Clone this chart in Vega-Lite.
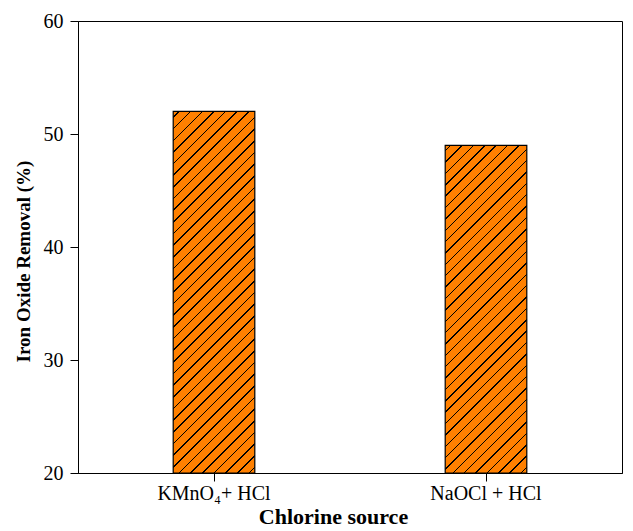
{
  "$schema": "https://vega.github.io/schema/vega-lite/v6.json",
  "autosize": "none",
  "width": 544,
  "height": 452,
  "padding": {"left": 78, "top": 21, "right": 11, "bottom": 58},
  "background": "white",
  "config": {
    "view": {"stroke": "black", "strokeWidth": 1},
    "font": "Liberation Serif",
    "axis": {
      "domainColor": "black",
      "tickColor": "black",
      "labelColor": "black",
      "titleColor": "black",
      "labelFont": "Liberation Serif",
      "titleFont": "Liberation Serif",
      "labelFontSize": 20,
      "titleFontSize": 19,
      "titleFontWeight": "bold",
      "grid": false,
      "tickSize": 8
    }
  },
  "data": {
    "values": [
      {"source": "KMnO₄+ HCl", "removal": 52},
      {"source": "NaOCl + HCl", "removal": 49}
    ]
  },
  "mark": {"type": "bar", "stroke": "black", "strokeWidth": 1.2},
  "encoding": {
    "x": {
      "field": "source",
      "type": "nominal",
      "sort": null,
      "scale": {"paddingInner": 0.7, "paddingOuter": 0.35},
      "axis": {"title": "Chlorine source", "labelAngle": 0, "titleFontSize": 22, "labelPadding": 2, "titlePadding": 3, "titleX": 255}
    },
    "y": {
      "field": "removal",
      "type": "quantitative",
      "scale": {"domain": [20, 60], "zero": false, "nice": false},
      "axis": {"title": "Iron Oxide Removal (%)", "values": [20, 30, 40, 50, 60], "labelPadding": 7, "titlePadding": 10, "titleY": 240}
    },
    "y2": {"datum": 20},
    "fill": {
      "condition": {
        "test": "datum.source === 'NaOCl + HCl'",
        "value": {
          "gradient": "linear", "x1": 0, "y1": 0, "x2": 0.29286, "y2": 1.17609,
          "stops": [
            {"offset": 0, "color": "#FF8000"},
            {"offset": 0.0121, "color": "#FF8000"}, {"offset": 0.0121, "color": "#000000"}, {"offset": 0.0157, "color": "#000000"}, {"offset": 0.0157, "color": "#FF8000"},
            {"offset": 0.0399, "color": "#FF8000"}, {"offset": 0.0399, "color": "#000000"}, {"offset": 0.0435, "color": "#000000"}, {"offset": 0.0435, "color": "#FF8000"},
            {"offset": 0.0676, "color": "#FF8000"}, {"offset": 0.0676, "color": "#000000"}, {"offset": 0.0712, "color": "#000000"}, {"offset": 0.0712, "color": "#FF8000"},
            {"offset": 0.0954, "color": "#FF8000"}, {"offset": 0.0954, "color": "#000000"}, {"offset": 0.0990, "color": "#000000"}, {"offset": 0.0990, "color": "#FF8000"},
            {"offset": 0.1232, "color": "#FF8000"}, {"offset": 0.1232, "color": "#000000"}, {"offset": 0.1268, "color": "#000000"}, {"offset": 0.1268, "color": "#FF8000"},
            {"offset": 0.1510, "color": "#FF8000"}, {"offset": 0.1510, "color": "#000000"}, {"offset": 0.1546, "color": "#000000"}, {"offset": 0.1546, "color": "#FF8000"},
            {"offset": 0.1788, "color": "#FF8000"}, {"offset": 0.1788, "color": "#000000"}, {"offset": 0.1824, "color": "#000000"}, {"offset": 0.1824, "color": "#FF8000"},
            {"offset": 0.2065, "color": "#FF8000"}, {"offset": 0.2065, "color": "#000000"}, {"offset": 0.2101, "color": "#000000"}, {"offset": 0.2101, "color": "#FF8000"},
            {"offset": 0.2343, "color": "#FF8000"}, {"offset": 0.2343, "color": "#000000"}, {"offset": 0.2379, "color": "#000000"}, {"offset": 0.2379, "color": "#FF8000"},
            {"offset": 0.2621, "color": "#FF8000"}, {"offset": 0.2621, "color": "#000000"}, {"offset": 0.2657, "color": "#000000"}, {"offset": 0.2657, "color": "#FF8000"},
            {"offset": 0.2899, "color": "#FF8000"}, {"offset": 0.2899, "color": "#000000"}, {"offset": 0.2935, "color": "#000000"}, {"offset": 0.2935, "color": "#FF8000"},
            {"offset": 0.3176, "color": "#FF8000"}, {"offset": 0.3176, "color": "#000000"}, {"offset": 0.3212, "color": "#000000"}, {"offset": 0.3212, "color": "#FF8000"},
            {"offset": 0.3454, "color": "#FF8000"}, {"offset": 0.3454, "color": "#000000"}, {"offset": 0.3490, "color": "#000000"}, {"offset": 0.3490, "color": "#FF8000"},
            {"offset": 0.3732, "color": "#FF8000"}, {"offset": 0.3732, "color": "#000000"}, {"offset": 0.3768, "color": "#000000"}, {"offset": 0.3768, "color": "#FF8000"},
            {"offset": 0.4010, "color": "#FF8000"}, {"offset": 0.4010, "color": "#000000"}, {"offset": 0.4046, "color": "#000000"}, {"offset": 0.4046, "color": "#FF8000"},
            {"offset": 0.4288, "color": "#FF8000"}, {"offset": 0.4288, "color": "#000000"}, {"offset": 0.4324, "color": "#000000"}, {"offset": 0.4324, "color": "#FF8000"},
            {"offset": 0.4565, "color": "#FF8000"}, {"offset": 0.4565, "color": "#000000"}, {"offset": 0.4601, "color": "#000000"}, {"offset": 0.4601, "color": "#FF8000"},
            {"offset": 0.4843, "color": "#FF8000"}, {"offset": 0.4843, "color": "#000000"}, {"offset": 0.4879, "color": "#000000"}, {"offset": 0.4879, "color": "#FF8000"},
            {"offset": 0.5121, "color": "#FF8000"}, {"offset": 0.5121, "color": "#000000"}, {"offset": 0.5157, "color": "#000000"}, {"offset": 0.5157, "color": "#FF8000"},
            {"offset": 0.5399, "color": "#FF8000"}, {"offset": 0.5399, "color": "#000000"}, {"offset": 0.5435, "color": "#000000"}, {"offset": 0.5435, "color": "#FF8000"},
            {"offset": 0.5676, "color": "#FF8000"}, {"offset": 0.5676, "color": "#000000"}, {"offset": 0.5712, "color": "#000000"}, {"offset": 0.5712, "color": "#FF8000"},
            {"offset": 0.5954, "color": "#FF8000"}, {"offset": 0.5954, "color": "#000000"}, {"offset": 0.5990, "color": "#000000"}, {"offset": 0.5990, "color": "#FF8000"},
            {"offset": 0.6232, "color": "#FF8000"}, {"offset": 0.6232, "color": "#000000"}, {"offset": 0.6268, "color": "#000000"}, {"offset": 0.6268, "color": "#FF8000"},
            {"offset": 0.6510, "color": "#FF8000"}, {"offset": 0.6510, "color": "#000000"}, {"offset": 0.6546, "color": "#000000"}, {"offset": 0.6546, "color": "#FF8000"},
            {"offset": 0.6788, "color": "#FF8000"}, {"offset": 0.6788, "color": "#000000"}, {"offset": 0.6824, "color": "#000000"}, {"offset": 0.6824, "color": "#FF8000"},
            {"offset": 0.7065, "color": "#FF8000"}, {"offset": 0.7065, "color": "#000000"}, {"offset": 0.7101, "color": "#000000"}, {"offset": 0.7101, "color": "#FF8000"},
            {"offset": 0.7343, "color": "#FF8000"}, {"offset": 0.7343, "color": "#000000"}, {"offset": 0.7379, "color": "#000000"}, {"offset": 0.7379, "color": "#FF8000"},
            {"offset": 0.7621, "color": "#FF8000"}, {"offset": 0.7621, "color": "#000000"}, {"offset": 0.7657, "color": "#000000"}, {"offset": 0.7657, "color": "#FF8000"},
            {"offset": 0.7899, "color": "#FF8000"}, {"offset": 0.7899, "color": "#000000"}, {"offset": 0.7935, "color": "#000000"}, {"offset": 0.7935, "color": "#FF8000"},
            {"offset": 0.8176, "color": "#FF8000"}, {"offset": 0.8176, "color": "#000000"}, {"offset": 0.8212, "color": "#000000"}, {"offset": 0.8212, "color": "#FF8000"},
            {"offset": 0.8454, "color": "#FF8000"}, {"offset": 0.8454, "color": "#000000"}, {"offset": 0.8490, "color": "#000000"}, {"offset": 0.8490, "color": "#FF8000"},
            {"offset": 0.8732, "color": "#FF8000"}, {"offset": 0.8732, "color": "#000000"}, {"offset": 0.8768, "color": "#000000"}, {"offset": 0.8768, "color": "#FF8000"},
            {"offset": 0.9010, "color": "#FF8000"}, {"offset": 0.9010, "color": "#000000"}, {"offset": 0.9046, "color": "#000000"}, {"offset": 0.9046, "color": "#FF8000"},
            {"offset": 0.9288, "color": "#FF8000"}, {"offset": 0.9288, "color": "#000000"}, {"offset": 0.9324, "color": "#000000"}, {"offset": 0.9324, "color": "#FF8000"},
            {"offset": 0.9565, "color": "#FF8000"}, {"offset": 0.9565, "color": "#000000"}, {"offset": 0.9601, "color": "#000000"}, {"offset": 0.9601, "color": "#FF8000"},
            {"offset": 0.9843, "color": "#FF8000"}, {"offset": 0.9843, "color": "#000000"}, {"offset": 0.9879, "color": "#000000"}, {"offset": 0.9879, "color": "#FF8000"},
            {"offset": 1, "color": "#FF8000"}
          ]
        }
      },
      "value": {
        "gradient": "linear", "x1": 0, "y1": 0, "x2": 0.26318, "y2": 1.16627,
        "stops": [
          {"offset": 0, "color": "#FF8000"},
          {"offset": 0.0115, "color": "#FF8000"}, {"offset": 0.0115, "color": "#000000"}, {"offset": 0.0149, "color": "#000000"}, {"offset": 0.0149, "color": "#FF8000"},
          {"offset": 0.0378, "color": "#FF8000"}, {"offset": 0.0378, "color": "#000000"}, {"offset": 0.0411, "color": "#000000"}, {"offset": 0.0411, "color": "#FF8000"},
          {"offset": 0.0641, "color": "#FF8000"}, {"offset": 0.0641, "color": "#000000"}, {"offset": 0.0675, "color": "#000000"}, {"offset": 0.0675, "color": "#FF8000"},
          {"offset": 0.0904, "color": "#FF8000"}, {"offset": 0.0904, "color": "#000000"}, {"offset": 0.0938, "color": "#000000"}, {"offset": 0.0938, "color": "#FF8000"},
          {"offset": 0.1167, "color": "#FF8000"}, {"offset": 0.1167, "color": "#000000"}, {"offset": 0.1201, "color": "#000000"}, {"offset": 0.1201, "color": "#FF8000"},
          {"offset": 0.1430, "color": "#FF8000"}, {"offset": 0.1430, "color": "#000000"}, {"offset": 0.1464, "color": "#000000"}, {"offset": 0.1464, "color": "#FF8000"},
          {"offset": 0.1694, "color": "#FF8000"}, {"offset": 0.1694, "color": "#000000"}, {"offset": 0.1727, "color": "#000000"}, {"offset": 0.1727, "color": "#FF8000"},
          {"offset": 0.1957, "color": "#FF8000"}, {"offset": 0.1957, "color": "#000000"}, {"offset": 0.1991, "color": "#000000"}, {"offset": 0.1991, "color": "#FF8000"},
          {"offset": 0.2220, "color": "#FF8000"}, {"offset": 0.2220, "color": "#000000"}, {"offset": 0.2254, "color": "#000000"}, {"offset": 0.2254, "color": "#FF8000"},
          {"offset": 0.2483, "color": "#FF8000"}, {"offset": 0.2483, "color": "#000000"}, {"offset": 0.2517, "color": "#000000"}, {"offset": 0.2517, "color": "#FF8000"},
          {"offset": 0.2746, "color": "#FF8000"}, {"offset": 0.2746, "color": "#000000"}, {"offset": 0.2780, "color": "#000000"}, {"offset": 0.2780, "color": "#FF8000"},
          {"offset": 0.3009, "color": "#FF8000"}, {"offset": 0.3009, "color": "#000000"}, {"offset": 0.3043, "color": "#000000"}, {"offset": 0.3043, "color": "#FF8000"},
          {"offset": 0.3273, "color": "#FF8000"}, {"offset": 0.3273, "color": "#000000"}, {"offset": 0.3306, "color": "#000000"}, {"offset": 0.3306, "color": "#FF8000"},
          {"offset": 0.3536, "color": "#FF8000"}, {"offset": 0.3536, "color": "#000000"}, {"offset": 0.3570, "color": "#000000"}, {"offset": 0.3570, "color": "#FF8000"},
          {"offset": 0.3799, "color": "#FF8000"}, {"offset": 0.3799, "color": "#000000"}, {"offset": 0.3833, "color": "#000000"}, {"offset": 0.3833, "color": "#FF8000"},
          {"offset": 0.4062, "color": "#FF8000"}, {"offset": 0.4062, "color": "#000000"}, {"offset": 0.4096, "color": "#000000"}, {"offset": 0.4096, "color": "#FF8000"},
          {"offset": 0.4325, "color": "#FF8000"}, {"offset": 0.4325, "color": "#000000"}, {"offset": 0.4359, "color": "#000000"}, {"offset": 0.4359, "color": "#FF8000"},
          {"offset": 0.4588, "color": "#FF8000"}, {"offset": 0.4588, "color": "#000000"}, {"offset": 0.4622, "color": "#000000"}, {"offset": 0.4622, "color": "#FF8000"},
          {"offset": 0.4851, "color": "#FF8000"}, {"offset": 0.4851, "color": "#000000"}, {"offset": 0.4885, "color": "#000000"}, {"offset": 0.4885, "color": "#FF8000"},
          {"offset": 0.5115, "color": "#FF8000"}, {"offset": 0.5115, "color": "#000000"}, {"offset": 0.5149, "color": "#000000"}, {"offset": 0.5149, "color": "#FF8000"},
          {"offset": 0.5378, "color": "#FF8000"}, {"offset": 0.5378, "color": "#000000"}, {"offset": 0.5411, "color": "#000000"}, {"offset": 0.5411, "color": "#FF8000"},
          {"offset": 0.5641, "color": "#FF8000"}, {"offset": 0.5641, "color": "#000000"}, {"offset": 0.5675, "color": "#000000"}, {"offset": 0.5675, "color": "#FF8000"},
          {"offset": 0.5904, "color": "#FF8000"}, {"offset": 0.5904, "color": "#000000"}, {"offset": 0.5938, "color": "#000000"}, {"offset": 0.5938, "color": "#FF8000"},
          {"offset": 0.6167, "color": "#FF8000"}, {"offset": 0.6167, "color": "#000000"}, {"offset": 0.6201, "color": "#000000"}, {"offset": 0.6201, "color": "#FF8000"},
          {"offset": 0.6430, "color": "#FF8000"}, {"offset": 0.6430, "color": "#000000"}, {"offset": 0.6464, "color": "#000000"}, {"offset": 0.6464, "color": "#FF8000"},
          {"offset": 0.6694, "color": "#FF8000"}, {"offset": 0.6694, "color": "#000000"}, {"offset": 0.6727, "color": "#000000"}, {"offset": 0.6727, "color": "#FF8000"},
          {"offset": 0.6957, "color": "#FF8000"}, {"offset": 0.6957, "color": "#000000"}, {"offset": 0.6991, "color": "#000000"}, {"offset": 0.6991, "color": "#FF8000"},
          {"offset": 0.7220, "color": "#FF8000"}, {"offset": 0.7220, "color": "#000000"}, {"offset": 0.7254, "color": "#000000"}, {"offset": 0.7254, "color": "#FF8000"},
          {"offset": 0.7483, "color": "#FF8000"}, {"offset": 0.7483, "color": "#000000"}, {"offset": 0.7517, "color": "#000000"}, {"offset": 0.7517, "color": "#FF8000"},
          {"offset": 0.7746, "color": "#FF8000"}, {"offset": 0.7746, "color": "#000000"}, {"offset": 0.7780, "color": "#000000"}, {"offset": 0.7780, "color": "#FF8000"},
          {"offset": 0.8009, "color": "#FF8000"}, {"offset": 0.8009, "color": "#000000"}, {"offset": 0.8043, "color": "#000000"}, {"offset": 0.8043, "color": "#FF8000"},
          {"offset": 0.8273, "color": "#FF8000"}, {"offset": 0.8273, "color": "#000000"}, {"offset": 0.8306, "color": "#000000"}, {"offset": 0.8306, "color": "#FF8000"},
          {"offset": 0.8536, "color": "#FF8000"}, {"offset": 0.8536, "color": "#000000"}, {"offset": 0.8570, "color": "#000000"}, {"offset": 0.8570, "color": "#FF8000"},
          {"offset": 0.8799, "color": "#FF8000"}, {"offset": 0.8799, "color": "#000000"}, {"offset": 0.8833, "color": "#000000"}, {"offset": 0.8833, "color": "#FF8000"},
          {"offset": 0.9062, "color": "#FF8000"}, {"offset": 0.9062, "color": "#000000"}, {"offset": 0.9096, "color": "#000000"}, {"offset": 0.9096, "color": "#FF8000"},
          {"offset": 0.9325, "color": "#FF8000"}, {"offset": 0.9325, "color": "#000000"}, {"offset": 0.9359, "color": "#000000"}, {"offset": 0.9359, "color": "#FF8000"},
          {"offset": 0.9588, "color": "#FF8000"}, {"offset": 0.9588, "color": "#000000"}, {"offset": 0.9622, "color": "#000000"}, {"offset": 0.9622, "color": "#FF8000"},
          {"offset": 0.9851, "color": "#FF8000"}, {"offset": 0.9851, "color": "#000000"}, {"offset": 0.9885, "color": "#000000"}, {"offset": 0.9885, "color": "#FF8000"},
          {"offset": 1, "color": "#FF8000"}
        ]
      }
    }
  }
}
